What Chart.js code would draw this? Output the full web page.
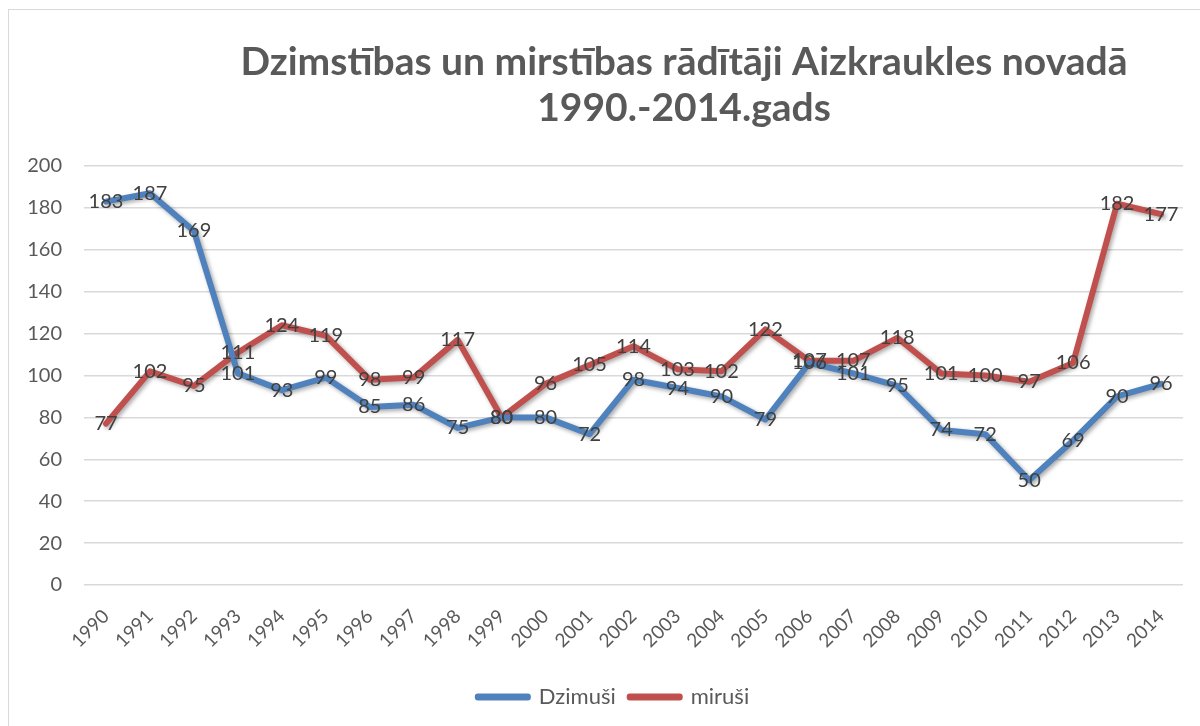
<!DOCTYPE html>
<html>
<head>
<meta charset="utf-8">
<script src="https://cdn.jsdelivr.net/npm/chart.js@4.4.1/dist/chart.umd.min.js"></script>
<style>
body { margin: 0; overflow: hidden; background: #fff; }
#frame { position: absolute; left: 8px; top: 9px; width: 1300px; height: 800px; border: 1px solid #d9d9d9; }
#wrap { position: absolute; left: 0; top: 0; width: 1200px; height: 726px; }
</style>
</head>
<body>
<div id="frame"></div>
<div id="wrap"><canvas id="chart"></canvas></div>
<script>
const years = ['1990', '1991', '1992', '1993', '1994', '1995', '1996', '1997', '1998', '1999',
    '2000', '2001', '2002', '2003', '2004', '2005', '2006', '2007', '2008', '2009',
    '2010', '2011', '2012', '2013', '2014'];
const dzimusi = [183, 187, 169, 101, 93, 99, 85, 86, 75, 80, 80, 72, 98, 94, 90, 79, 106, 101, 95, 74, 72, 50, 69, 90, 96];
const mirusi = [77, 102, 95, 111, 124, 119, 98, 99, 117, 80, 96, 105, 114, 103, 102, 122, 107, 107, 118, 101, 100, 97, 106, 182, 177];
const titleLines = ['Dzimstības un mirstības rādītāji Aizkraukles novadā', '1990.-2014.gads'];

const fontFamily = 'Lato, "Open Sans", sans-serif';

// Excel-like drop shadow under each line
const shadowPlugin = {
    id: 'lineShadow',
    beforeDatasetDraw(chart) {
        const ctx = chart.ctx;
        ctx.save();
        ctx.shadowColor = 'rgba(0, 0, 0, 0.35)';
        ctx.shadowBlur = 4;
        ctx.shadowOffsetX = 2;
        ctx.shadowOffsetY = 2;
    },
    afterDatasetDraw(chart) {
        chart.ctx.restore();
    }
};

// values written centred on each point
const valueLabels = {
    id: 'valueLabels',
    afterDatasetsDraw(chart) {
        const ctx = chart.ctx;
        ctx.save();
        ctx.font = '20px ' + fontFamily;
        ctx.fillStyle = '#404040';
        ctx.textAlign = 'center';
        ctx.textBaseline = 'middle';
        chart.data.datasets.forEach((ds, i) => {
            chart.getDatasetMeta(i).data.forEach((pt, j) => {
                ctx.fillText(ds.data[j], pt.x, pt.y);
            });
        });
        ctx.restore();
    }
};

// title sits a bit right of centre, like the original
const titlePlugin = {
    id: 'twoLineTitle',
    afterDraw(chart) {
        const ctx = chart.ctx;
        ctx.save();
        ctx.font = 'bold 39px ' + fontFamily;
        ctx.fillStyle = '#595959';
        ctx.textAlign = 'center';
        ctx.textBaseline = 'middle';
        ctx.fillText(titleLines[0], 684, 62);
        ctx.fillText(titleLines[1], 684, 108);
        ctx.restore();
    }
};

// nudge the legend right so it centres on x ~613
const legendShift = {
    id: 'legendShift',
    afterLayout(chart) {
        if (chart.legend) chart.legend.left += 34;
    }
};

const data = {
    labels: years,
    datasets: [
        {
            label: 'Dzimuši',
            data: dzimusi,
            borderColor: '#4F81BD',
            backgroundColor: '#4F81BD',
            borderWidth: 6,
            borderCapStyle: 'round',
            borderJoinStyle: 'round',
            pointRadius: 0,
            tension: 0
        },
        {
            label: 'miruši',
            data: mirusi,
            borderColor: '#C0504D',
            backgroundColor: '#C0504D',
            borderWidth: 6,
            borderCapStyle: 'round',
            borderJoinStyle: 'round',
            pointRadius: 0,
            tension: 0
        }
    ]
};

const config = {
    type: 'line',
    data: data,
    options: {
        responsive: true,
        maintainAspectRatio: false,
        animation: false,
        events: [],
        layout: {
            padding: { left: 10, right: 17, top: 166, bottom: 8 }
        },
        scales: {
            x: {
                offset: true,
                grid: { display: false },
                border: { display: false },
                ticks: {
                    maxRotation: 45,
                    minRotation: 45,
                    autoSkip: false,
                    padding: 12,
                    color: '#595959',
                    font: { family: fontFamily, size: 19 }
                },
                afterFit(scale) { scale.height = 87; }
            },
            y: {
                min: 0,
                max: 200,
                grid: { color: '#d9d9d9', lineWidth: 1.5, drawTicks: false },
                border: { display: false },
                ticks: {
                    stepSize: 20,
                    padding: 22,
                    color: '#595959',
                    font: { family: fontFamily, size: 20 }
                },
                afterFit(scale) { scale.width = 74; }
            }
        },
        plugins: {
            title: { display: false },
            tooltip: { enabled: false },
            legend: {
                position: 'bottom',
                labels: {
                    boxWidth: 50,
                    boxHeight: 1,
                    padding: 14,
                    color: '#595959',
                    font: { family: fontFamily, size: 22 }
                }
            }
        }
    },
    plugins: [shadowPlugin, valueLabels, titlePlugin, legendShift]
};

const ctx = document.getElementById('chart').getContext('2d');
const lineChart = new Chart(ctx, config);
</script>
</body>
</html>
